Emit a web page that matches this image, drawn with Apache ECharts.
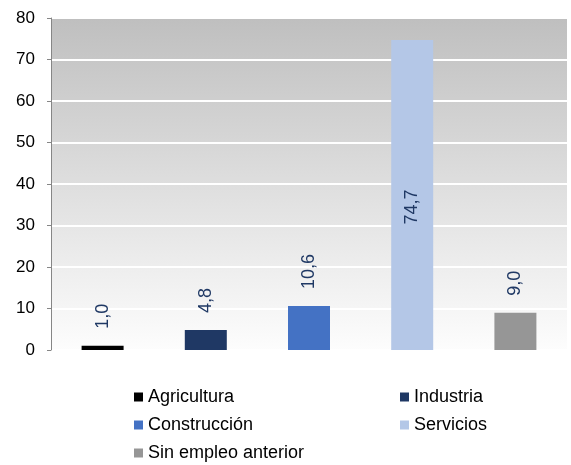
<!DOCTYPE html>
<html>
<head>
<meta charset="utf-8">
<script src="https://cdn.jsdelivr.net/npm/echarts@6/dist/echarts.min.js"></script>
<style>
  html, body { margin: 0; padding: 0; background: #fff; }
  #chart { width: 571px; height: 465px; }
</style>
</head>
<body>
<div id="chart"></div>
<script>
// datos
var categories = ['Agricultura', 'Industria', 'Construcción', 'Servicios', 'Sin empleo anterior'];
var values = [1.0, 4.8, 10.6, 74.7, 9.0];
var colors = ['#000000', '#1f3864', '#4472c4', '#b4c7e7', '#969696'];
var yTicks = [0, 10, 20, 30, 40, 50, 60, 70, 80];

var myChart = echarts.init(document.getElementById('chart'));

// una serie por categoria, apiladas para que queden centradas
var series = [];
for (var i = 0; i < categories.length; i++) {
    var d = [];
    for (var j = 0; j < categories.length; j++) {
        d.push(j === i ? values[i] : '-');
    }
    var label = {
        show: true,
        position: 'top',
        distance: 17,
        rotate: 90,
        align: 'left',
        verticalAlign: 'middle',
        color: '#1f3864',
        fontFamily: 'Liberation Sans, Arial',
        fontSize: 18,
        formatter: function (p) {
            return p.value.toFixed(1).replace('.', ',');
        }
    };
    if (values[i] > 60) {
        // la barra alta lleva la etiqueta dentro
        label.position = 'inside';
        label.align = 'center';
        label.offset = [-12, 0];
    }
    series.push({
        name: categories[i],
        type: 'bar',
        stack: 'total',
        barWidth: 42,
        data: d,
        itemStyle: { color: colors[i] },
        label: label
    });
}

var legendText = { fontFamily: 'Liberation Sans, Arial', fontSize: 18, color: '#000' };

var option = {
    animation: false,
    grid: {
        left: 51,
        right: 4,
        top: 18,
        bottom: 115,
        show: true,
        borderWidth: 0,
        backgroundColor: new echarts.graphic.LinearGradient(0, 0, 0, 1, [
            { offset: 0, color: '#bfbfbf' },
            { offset: 1, color: '#fdfdfd' }
        ])
    },
    legend: [
        {
            orient: 'vertical',
            left: 129,
            top: 383,
            height: 100,
            itemWidth: 9,
            itemHeight: 9,
            itemGap: 10,
            icon: 'rect',
            textStyle: legendText,
            data: [categories[0], categories[2], categories[4]]
        },
        {
            orient: 'vertical',
            left: 395,
            top: 383,
            height: 100,
            itemWidth: 9,
            itemHeight: 9,
            itemGap: 10,
            icon: 'rect',
            textStyle: legendText,
            data: [categories[1], categories[3]]
        }
    ],
    xAxis: {
        type: 'category',
        data: categories,
        axisLine: { show: false },
        axisTick: { show: false },
        axisLabel: { show: false }
    },
    yAxis: {
        type: 'value',
        min: yTicks[0],
        max: yTicks[yTicks.length - 1],
        interval: 10,
        axisLine: { show: true, lineStyle: { color: '#868686', width: 1 } },
        axisTick: { show: true, length: 4, lineStyle: { color: '#868686' } },
        axisLabel: {
            margin: 16,
            color: '#000',
            fontFamily: 'Liberation Sans, Arial',
            fontSize: 17
        },
        splitLine: { show: true, lineStyle: { color: '#ffffff', width: 2 } }
    },
    series: series
};

myChart.setOption(option, true);
</script>
</body>
</html>
